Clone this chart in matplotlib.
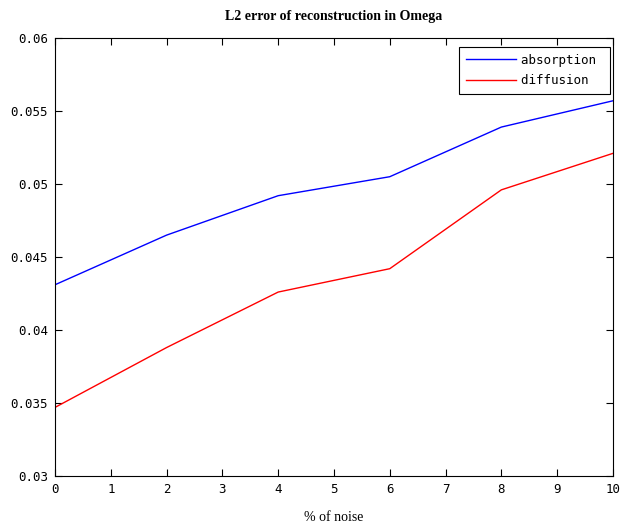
import numpy as np
import matplotlib.pyplot as plt

noise = [0, 2, 4, 6, 8, 10]
absorption = [0.0431, 0.0465, 0.0492, 0.0505, 0.0539, 0.0557]
diffusion = [0.0347, 0.0388, 0.0426, 0.0442, 0.0496, 0.0521]

yticks = [0.03, 0.035, 0.04, 0.045, 0.05, 0.055, 0.06]
ytick_labels = ["0.03", "0.035", "0.04", "0.045", "0.05", "0.055", "0.06"]

fig = plt.figure(figsize=(6.21, 5.25), dpi=100)
ax = fig.add_axes([0.0886, 0.0933, 0.8984, 0.8343])

ax.plot(noise, absorption, color="blue", lw=1.0, label="absorption ")
ax.plot(noise, diffusion, color="red", lw=1.0, label="diffusion ")

ax.set_xlim(0, 10)
ax.set_ylim(0.03, 0.06)
ax.set_xticks(range(11))
ax.set_yticks(yticks)
ax.set_yticklabels(ytick_labels)
ax.tick_params(direction="in", top=True, right=True, length=5, width=0.8,
               labelsize=9, pad=5)
for lab in ax.get_xticklabels() + ax.get_yticklabels():
    lab.set_family("DejaVu Sans Mono")
for s in ax.spines.values():
    s.set_linewidth(0.8)

ax.set_title("L2 error of reconstruction in Omega", family="Liberation Serif",
             fontweight="bold", fontsize=10, pad=13)
ax.set_xlabel("% of noise", family="Liberation Serif", fontsize=10, labelpad=11)

leg = ax.legend(loc="upper right", bbox_to_anchor=(0.995, 0.98),
                prop={"family": "DejaVu Sans Mono", "size": 9},
                fancybox=False, framealpha=1, edgecolor="black",
                handlelength=4.0, borderaxespad=0, labelspacing=0.6,
                handletextpad=0.4, borderpad=0.55)
leg.get_frame().set_linewidth(0.8)

fig.savefig("out.png", dpi=100)
